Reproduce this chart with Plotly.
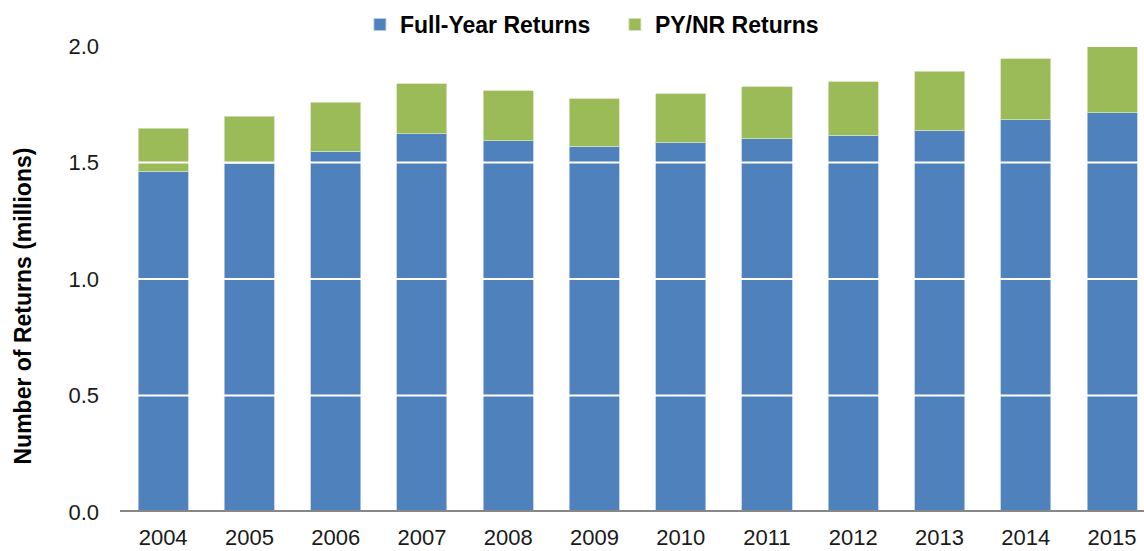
import plotly.graph_objects as go

years = ["2004", "2005", "2006", "2007", "2008", "2009", "2010", "2011", "2012", "2013", "2014", "2015"]
full_year = [1.462, 1.496, 1.549, 1.623, 1.593, 1.570, 1.587, 1.602, 1.617, 1.639, 1.683, 1.713]
totals = [1.648, 1.699, 1.759, 1.839, 1.809, 1.773, 1.795, 1.825, 1.846, 1.892, 1.945, 1.997]
py_nr = [round(t - f, 3) for t, f in zip(totals, full_year)]
y_ticks = [0.0, 0.5, 1.0, 1.5, 2.0]

BLUE = "#4F81BD"
GREEN = "#9BBB59"
FONT = "Liberation Sans, Arial, sans-serif"

fig = go.Figure()
fig.add_trace(go.Bar(x=years, y=full_year, name="Full-Year Returns",
                     marker=dict(color=BLUE, line=dict(color="#b9cbe3", width=0.8))))
fig.add_trace(go.Bar(x=years, y=py_nr, name="PY/NR Returns",
                     marker=dict(color=GREEN, line=dict(color="#d3e2b8", width=0.8))))

shapes = []
for v in y_ticks[1:]:
    shapes.append(dict(type="line", xref="paper", yref="y", x0=0, x1=1, y0=v, y1=v,
                       line=dict(color="white", width=2), layer="above"))
shapes.append(dict(type="line", xref="paper", yref="y", x0=0, x1=1, y0=0, y1=0,
                   line=dict(color="#878787", width=4), layer="above"))

fig.update_layout(
    barmode="stack",
    bargap=0.42,
    width=1144, height=551,
    margin=dict(l=120, r=0, t=46, b=39),
    plot_bgcolor="white", paper_bgcolor="white",
    font=dict(family=FONT, size=22, color="#1a1a1a"),
    shapes=shapes,
    showlegend=True,
    legend=dict(orientation="h", x=0.2343, xanchor="left", y=1.046, yanchor="middle",
                font=dict(family=FONT, size=23, color="#000000", weight="bold"),
                entrywidth=210, entrywidthmode="pixels",
                traceorder="normal", bgcolor="rgba(0,0,0,0)"),
    xaxis=dict(range=[-0.5, 11.37], showgrid=False, showline=False, ticks="",
               tickfont=dict(size=22), ticklabelstandoff=10),
    yaxis=dict(range=[0, 2.0], tickvals=y_ticks, tickformat=".1f", showgrid=False,
               zeroline=False, showline=False, ticks="", tickfont=dict(size=22),
               ticklabelstandoff=20),
    annotations=[dict(text="<b>Number of Returns (millions)</b>", xref="paper", yref="paper",
                      x=-0.0, xshift=-97, y=0.441, xanchor="center", yanchor="middle",
                      textangle=-90, showarrow=False,
                      font=dict(family=FONT, size=23, color="#000000"))],
)

fig.write_html("out.html", config={"displayModeBar": False},
               post_script="document.body.style.margin='0';document.body.style.overflow='hidden';")
